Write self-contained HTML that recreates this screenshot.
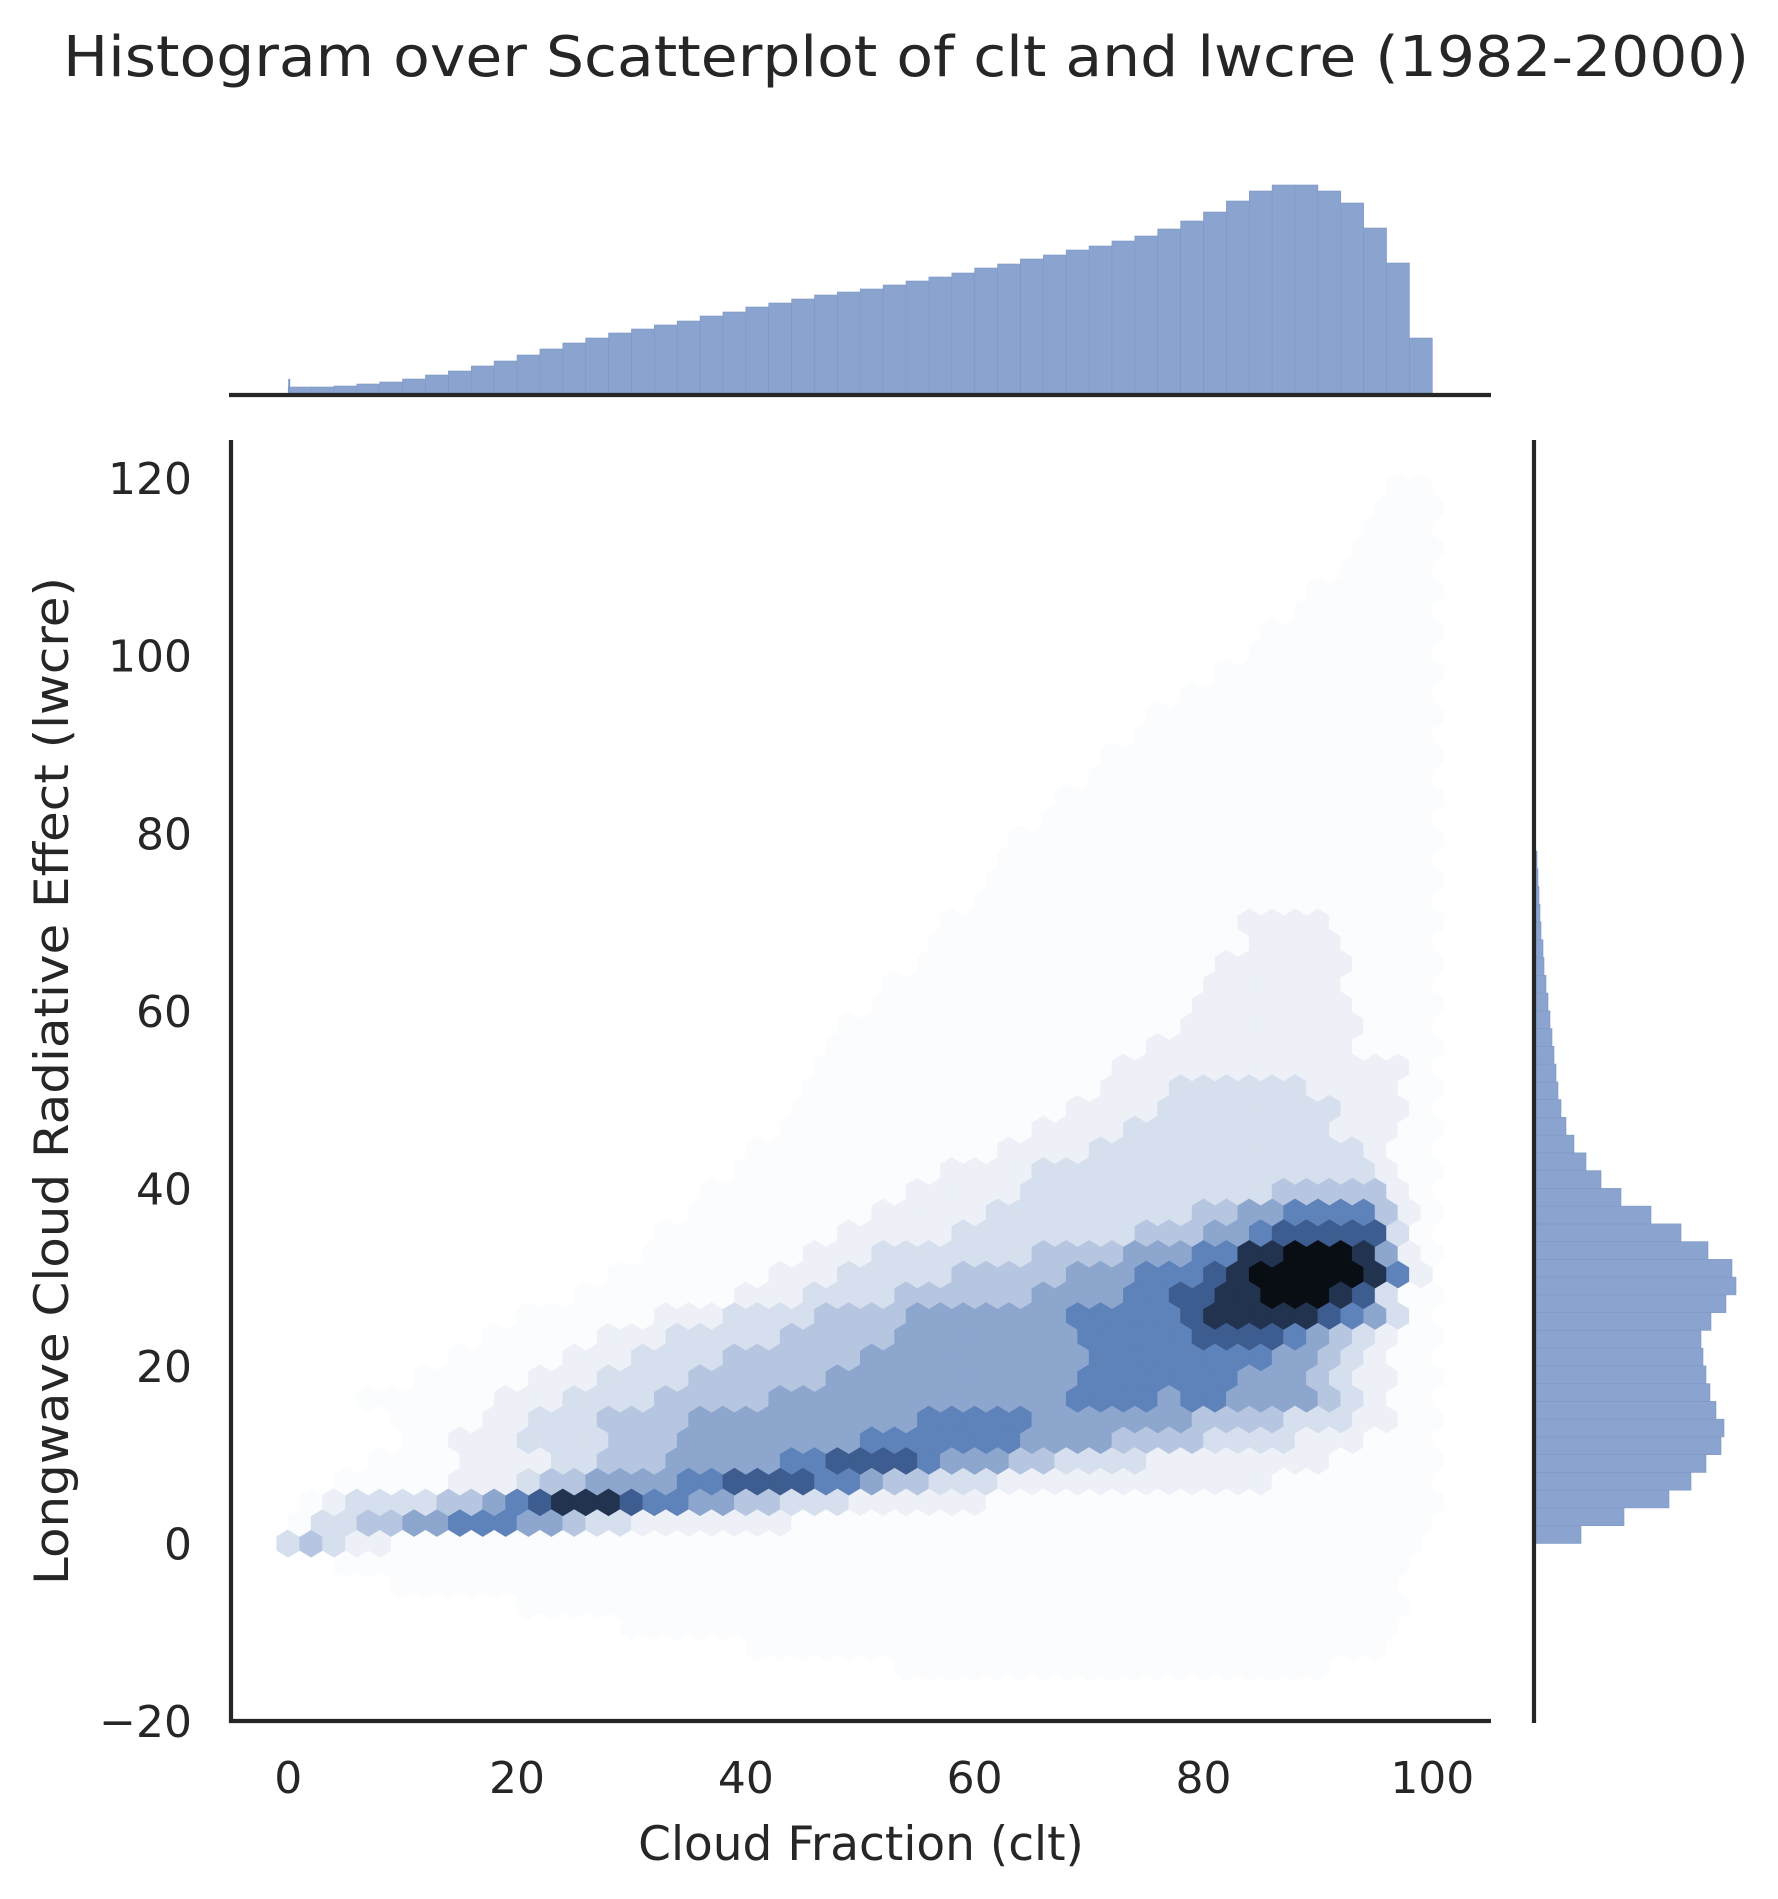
<!DOCTYPE html>
<html><head><meta charset="utf-8"><title>Histogram over Scatterplot of clt and lwcre</title>
<style>
html,body{margin:0;padding:0;background:#fff;}
svg{display:block;font-family:"DejaVu Sans","Liberation Sans",sans-serif;}
</style></head>
<body>
<svg id="chart" width="1778" height="1899" viewBox="0 0 1778 1899" xmlns="http://www.w3.org/2000/svg">
  <rect width="1778" height="1899" fill="#ffffff"/>
  <text x="906" y="76" font-size="56" fill="#262626" text-anchor="middle" textLength="1686" lengthAdjust="spacingAndGlyphs">Histogram over Scatterplot of clt and lwcre (1982-2000)</text>
  <g id="hexLayer"></g>
  <g id="topHist"></g>
  <g id="rightHist"></g>
  <g id="axes"></g>
  <text x="861" y="1860" font-size="47" fill="#262626" text-anchor="middle">Cloud Fraction (clt)</text>
  <text x="0" y="0" font-size="47" fill="#262626" text-anchor="middle" transform="translate(68,1081) rotate(-90)" textLength="1008" lengthAdjust="spacingAndGlyphs">Longwave Cloud Radiative Effect (lwcre)</text>
</svg>
<script>
// ---- data ----
const xTicks = [0, 20, 40, 60, 80, 100];
const yTicks = [-20, 0, 20, 40, 60, 80, 100, 120];
// hexbin intensity levels (0 = empty), rows from k=-6 (y=-14) up to k=51 (y=119); row y = k*7/3
const hexRowStartK = -6;
const hexRows = [
"0000000000 0000000000 0000000111 1111111111 1111110000 0",
"0000000000 0000000000 1111111111 1111111111 1111111100 0",
"0000000000 0000011111 1111111111 1111111111 1111111110 0",
"0000000000 1111111111 1111111111 1111111111 1111111110 0",
"0000011111 1111111111 1111111111 1111111111 1111111110 0",
"0011111111 1111111111 1111111111 1111111111 1111111110 0",
"3432211111 1111111111 1111111111 1111111111 1111111111 0",
"1334455666 5543322222 2211111111 1111111111 1111111111 0",
"0123333445 6788876655 4433322222 2111111111 1111111111 1",
"0011111222 3445555667 7776654433 3222222222 2221111111 0",
"0000111122 2233444555 5566777765 5544333322 2222221111 1",
"0000011222 3333444555 5555566666 6655554444 3333222111 0",
"0000011112 2333444455 5555555566 6665555555 4444333221 1",
"0001111112 2233334444 4555555555 5555666656 6555543211 0",
"0000001111 1222333344 4444555555 5555566666 6655543221 1",
"0000000111 1122233334 4444455555 5555566666 6665543211 0",
"0000000001 1111222333 3344444555 5555566666 7777654321 1",
"0000000000 1111112223 3334444555 5555666667 8888876531 0",
"0000000000 0001111111 2223333444 4445555667 7889998731 1",
"0000000000 0000111111 1222333334 4444555666 7899999862 0",
"0000000000 0000001111 1112223333 3334444555 6688999852 1",
"0000000000 0000001111 1111222223 3333333444 5567777731 0",
"0000000000 0000000011 1111112222 2333333333 4455666642 1",
"0000000000 0000000011 1111111222 2233333333 3334444421 0",
"0000000000 0000000000 1111111112 2223333333 3333333321 1",
"0000000000 0000000000 1111111111 1222233333 3333333211 0",
"0000000000 0000000000 0011111111 1112222333 3333332221 1",
"0000000000 0000000000 0011111111 1111222233 3333332221 0",
"0000000000 0000000000 0001111111 1111112223 3333322221 1",
"0000000000 0000000000 0001111111 1111112222 2222222221 0",
"0000000000 0000000000 0000111111 1111111122 2222222111 1",
"0000000000 0000000000 0000111111 1111111112 2222222111 0",
"0000000000 0000000000 0000001111 1111111111 2222222111 1",
"0000000000 0000000000 0000001111 1111111111 2222221111 0",
"0000000000 0000000000 0000000011 1111111111 1222222111 1",
"0000000000 0000000000 0000000011 1111111111 1122221111 0",
"0000000000 0000000000 0000000001 1111111111 1122221111 1",
"0000000000 0000000000 0000000000 1111111111 1111111111 0",
"0000000000 0000000000 0000000000 0111111111 1111111111 1",
"0000000000 0000000000 0000000000 0111111111 1111111111 0",
"0000000000 0000000000 0000000000 0011111111 1111111111 1",
"0000000000 0000000000 0000000000 0001111111 1111111111 0",
"0000000000 0000000000 0000000000 0000111111 1111111111 1",
"0000000000 0000000000 0000000000 0000011111 1111111111 0",
"0000000000 0000000000 0000000000 0000001111 1111111111 1",
"0000000000 0000000000 0000000000 0000000111 1111111111 0",
"0000000000 0000000000 0000000000 0000000011 1111111111 1",
"0000000000 0000000000 0000000000 0000000001 1111111111 0",
"0000000000 0000000000 0000000000 0000000000 0111111111 1",
"0000000000 0000000000 0000000000 0000000000 0011111111 0",
"0000000000 0000000000 0000000000 0000000000 0001111111 1",
"0000000000 0000000000 0000000000 0000000000 0000111111 0",
"0000000000 0000000000 0000000000 0000000000 0000011111 1",
"0000000000 0000000000 0000000000 0000000000 0000001111 0",
"0000000000 0000000000 0000000000 0000000000 0000000111 1",
"0000000000 0000000000 0000000000 0000000000 0000000111 0",
"0000000000 0000000000 0000000000 0000000000 0000000011 1",
"0000000000 0000000000 0000000000 0000000000 0000000011 0"
];
// top marginal histogram: clt bins (centers) and counts
const cltBins = [1,3,5,7,9,11,13,15,17,19,21,23,25,27,29,31,33,35,37,39,41,43,45,47,49,51,53,55,57,59,61,63,65,67,69,71,73,75,77,79,81,83,85,87,89,91,93,95,97,99];
const cltCounts = [6,6,7,9,11,14,18,22,27,32,38,44,50,55,60,64,68,72,77,81,86,90,94,98,101,104,108,112,116,120,125,129,134,138,143,147,152,157,164,172,181,192,202,208,208,202,190,165,130,55];
const cltSpikeValue = 0;
const cltSpikeCount = 14;
// right marginal histogram: lwcre bins (centers) and counts
const lwBins = [1,3,5,7,9,11,13,15,17,19,21,23,25,27,29,31,33,35,37,39,41,43,45,47,49,51,53,55,57,59,61,63,65,67,69,71,73,75,77];
const lwCounts = [45,88,133,155,170,185,188,180,174,170,167,165,175,190,200,196,172,145,115,85,65,50,38,30,25,22,20,18,16,14,12,10,8,7,5,4,3,2,1];

// ---- scales ----
const X0 = 231, X1 = 1491, XMIN = -5, XMAX = 105.13;
const Y0 = 1721, Y1 = 440, YMIN = -20, YMAX = 124.3;
function xs(v){ return X0 + (v - XMIN) / (XMAX - XMIN) * (X1 - X0); }
function ys(v){ return Y0 - (v - YMIN) / (YMAX - YMIN) * (Y0 - Y1); }
const TOP_BASE = 393, RIGHT_BASE = 1536;
function topH(c){ return c * 1.0; }
function rightW(c){ return c * 1.0; }

const NS = "http://www.w3.org/2000/svg";
function mk(tag, attrs, parent){
  const e = document.createElementNS(NS, tag);
  for (const k in attrs) e.setAttribute(k, attrs[k]);
  parent.appendChild(e);
  return e;
}
const lightTable = [1, 0.988, 0.95, 0.885, 0.795, 0.68, 0.55, 0.40, 0.22, 0.06];
function hexColor(level){ return "hsl(217,40%," + (lightTable[level] * 100).toFixed(1) + "%)"; }

// ---- hexbin ----
const hexLayer = document.getElementById("hexLayer");
const hw = (xs(2) - xs(0)) / 2;
const rowSy = ys(0) - ys(14/3);
hexRows.forEach(function(rowStr, r){
  const k = hexRowStartK + r;
  const yv = k * 7 / 3;
  const cells = rowStr.replace(/ /g, "");
  const odd = Math.abs(k) % 2 === 1;
  for (let i = 0; i < cells.length; i++){
    const lvl = parseInt(cells[i], 10);
    if (!lvl) continue;
    const xv = (odd ? 1 : 0) + 2 * i;
    const cx = xs(xv), cy = ys(yv);
    const pts = [[hw, -rowSy/6],[hw, rowSy/6],[0, rowSy/3],[-hw, rowSy/6],[-hw, -rowSy/6],[0, -rowSy/3]]
      .map(function(p){ return (cx + p[0]).toFixed(2) + "," + (cy + p[1]).toFixed(2); }).join(" ");
    const col = hexColor(lvl);
    const poly = mk("polygon", {points: pts, fill: col, stroke: col, "stroke-width": 0.6}, hexLayer);
    
    
  }
});

// ---- top histogram ----
const topHist = document.getElementById("topHist");
cltBins.forEach(function(c, i){
  const h = topH(cltCounts[i]);
  const r = mk("rect", {x: xs(c - 1), y: TOP_BASE - h, width: xs(c + 1) - xs(c - 1), height: h, fill: "#8ba4cf", stroke: "#7e98c7", "stroke-width": 0.6}, topHist);
  
  
});
const spike = mk("rect", {x: xs(cltSpikeValue), y: TOP_BASE - topH(cltSpikeCount), width: 2, height: topH(cltSpikeCount), fill: "#7e98c7"}, topHist);



// ---- right histogram ----
const rightHist = document.getElementById("rightHist");
lwBins.forEach(function(c, i){
  const w = rightW(lwCounts[i]);
  const r = mk("rect", {x: RIGHT_BASE, y: ys(c + 1), width: w, height: ys(c - 1) - ys(c + 1), fill: "#8ba4cf", stroke: "#7e98c7", "stroke-width": 0.6}, rightHist);
  
  
});

// ---- axes ----
const axes = document.getElementById("axes");
const spineColor = "#262626";
const SW = 4.2;
let s;
s = mk("line", {x1: X0, y1: Y1, x2: X0, y2: Y0 + 2, stroke: spineColor, "stroke-width": SW}, axes);


s = mk("line", {x1: X0 - 2, y1: Y0, x2: X1, y2: Y0, stroke: spineColor, "stroke-width": SW}, axes);


s = mk("line", {x1: X0 - 2, y1: TOP_BASE + 2, x2: X1, y2: TOP_BASE + 2, stroke: spineColor, "stroke-width": SW}, axes);


s = mk("line", {x1: RIGHT_BASE - 2, y1: Y1, x2: RIGHT_BASE - 2, y2: Y0 + 2, stroke: spineColor, "stroke-width": SW}, axes);



xTicks.forEach(function(t){
  const tx = mk("text", {x: xs(t), y: 1793, "font-size": 44, fill: "#262626", "text-anchor": "middle"}, axes);
  tx.textContent = String(t);
  
  
});
yTicks.forEach(function(t){
  const ty = mk("text", {x: 192, y: ys(t) + 16, "font-size": 44, fill: "#262626", "text-anchor": "end"}, axes);
  ty.textContent = t < 0 ? "\u2212" + Math.abs(t) : String(t);
  
  
});
</script>
</body></html>
